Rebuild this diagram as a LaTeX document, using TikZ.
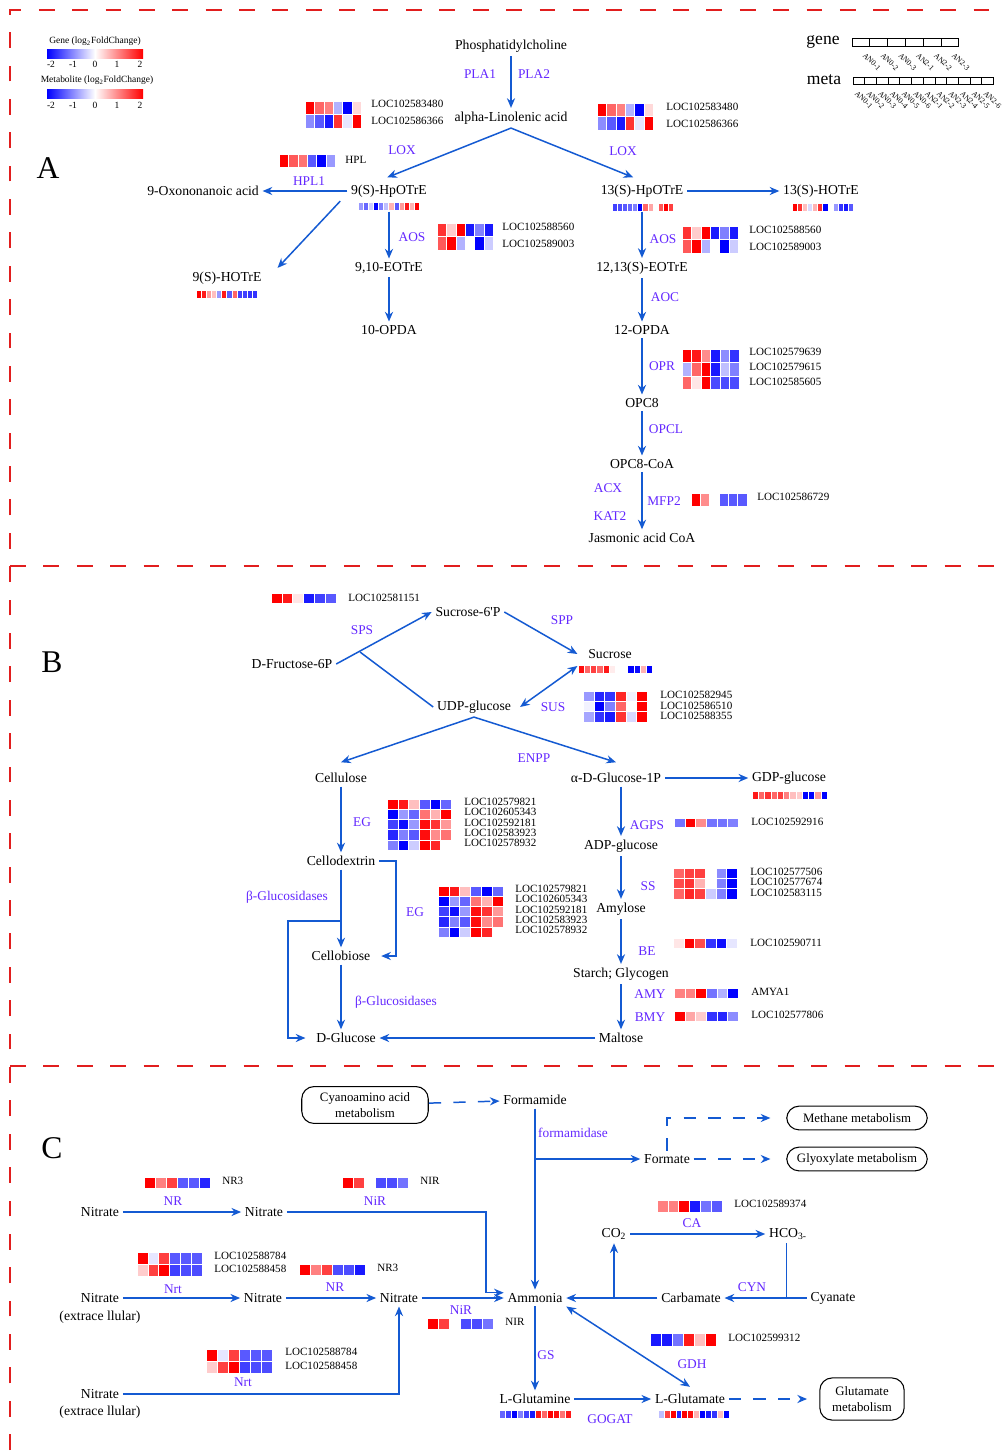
\documentclass[tikz,border=0pt]{standalone}
\usepackage{fontspec}
\setmainfont{Liberation Serif}
\usetikzlibrary{arrows.meta,calc}
\definecolor{arrcol}{RGB}{20,90,210}
\definecolor{enzcol}{RGB}{100,40,255}
\definecolor{sepcol}{RGB}{225,30,30}
\newcommand{\hmap}[5]{%
  \foreach \hrow [count=\j from 0] in {#5}{%
    \foreach \v [count=\i from 0] in \hrow{%
      \pgfmathsetmacro{\hp}{min(100,abs(\v)*50)}%
      \ifdim \v pt<0pt \def\hc{blue}\else\def\hc{red}\fi
      \filldraw[fill=\hc!\hp!white, draw=white, line width=0.15pt]
        (#1+\i*#3,#2+\j*#4) rectangle ++(#3,#4);
    }%
  }%
}
\tikzset{
  met/.style={font=\fontsize{7.8}{9.4}\selectfont, inner sep=2pt, align=center},
  enz/.style={font=\fontsize{7.6}{9}\selectfont, text=enzcol, inner sep=1pt},
  loc/.style={font=\fontsize{6.3}{7}\selectfont, anchor=west, inner sep=0pt},
  leg/.style={font=\fontsize{5.4}{6}\selectfont, inner sep=0pt},
  part/.style={font=\fontsize{18}{18}\selectfont, inner sep=0pt},
  arr/.style={draw=arrcol, line width=0.85pt, arrows={-Stealth[length=5.5pt,width=4.6pt]}},
  darr/.style={arr, arrows={Stealth[length=5.5pt,width=4.6pt]-Stealth[length=5.5pt,width=4.6pt]}},
  dasharr/.style={arr, dash pattern=on 7pt off 7pt},
  lin/.style={draw=arrcol, line width=0.85pt},
  pbox/.style={draw, line width=0.6pt, rounded corners=7pt, align=center,
    font=\fontsize{7.3}{9}\selectfont, inner sep=2pt},
  sep/.style={draw=sepcol, line width=1.4pt, dash pattern=on 9pt off 10pt},
}
\begin{document}
\begin{tikzpicture}[x=0.02cm,y=-0.02cm]
\useasboundingbox (0,0) rectangle (1006,1453);
\fill[white] (0,0) rectangle (1006,1453);
\draw[sep] (10,1450) -- (10,10) -- (1006,10);
\draw[sep] (10,566) -- (1006,566);
\draw[sep] (10,1066) -- (1006,1066);

% legend
\node[leg] (legg) at (95,41) {Gene (log\textsubscript{2}FoldChange)};
\shade[left color=blue, right color=red, middle color=white] (47,50) rectangle (143,59);
\node[leg] (legm) at (97,80) {Metabolite (log\textsubscript{2}FoldChange)};
\shade[left color=blue, right color=red, middle color=white] (47,90) rectangle (143,99);
\foreach \t/\xx in {-2/51,-1/73,0/95,1/117,2/140}{
  \node[leg] (lg\t) at (\xx,64) {\t};
  \node[leg] (lm\t) at (\xx,105) {\t};
}
\node[font=\fontsize{10}{10}\selectfont, inner sep=0pt] (gene) at (823,42) {gene};
\node[font=\fontsize{10}{10}\selectfont, inner sep=0pt] (meta) at (824,80) {meta};
\foreach \t [count=\i from 0] in {AN0-1,AN0-2,AN0-3,AN2-1,AN2-2,AN2-3}{
  \draw[line width=0.4pt] (852+\i*17.8,38) rectangle ++(17.8,8);
  \node[leg, font=\fontsize{4.4}{5}\selectfont, rotate=-45, anchor=west] (gl\i) at (864+\i*17.8,54) {\t};
}
\foreach \t [count=\i from 0] in {AN0-1,AN0-2,AN0-3,AN0-4,AN0-5,AN0-6,AN2-1,AN2-2,AN2-3,AN2-4,AN2-5,AN2-6}{
  \draw[line width=0.4pt] (853+\i*11.7,77) rectangle ++(11.7,7);
  \node[leg, font=\fontsize{4.4}{5}\selectfont, rotate=-45, anchor=west] (ml\i) at (856+\i*11.7,92) {\t};
}

% A
\node[part] (pA) at (48,168) {A};
\node[met] (phos) at (511,46) {Phosphatidylcholine};
\node[met] (ala) at (511,118) {alpha-Linolenic acid};
\draw[arr] (phos) -- (ala);
\node[enz] (pla1) at (480,74) {PLA1};
\node[enz] (pla2) at (534,74) {PLA2};
\hmap{305}{101}{9.4}{13.5}{{2,1.2,1,-0.6,-2,0.3},{-0.9,-1.3,-1.8,1.6,-0.2,2}}
\hmap{597}{103}{9.4}{13.5}{{2,1.2,1,-0.6,-2,0.3},{-0.9,-1.3,-1.8,1.6,-0.2,2}}
\foreach \t [count=\k from 0] in {LOC102583480,LOC102586366}{
  \node[loc] (lla\k) at (371,104+\k*17) {\t};
  \node[loc] (llb\k) at (666,107+\k*17) {\t};
}
\node[met] (hp9) at (389,191) {9(S)-HpOTrE};
\node[met] (hp13) at (642,191) {13(S)-HpOTrE};
\draw[arr] (ala.south) -- ([xshift=-1pt,yshift=2pt]hp9.north);
\draw[arr] (ala.south) -- ([xshift=-5pt,yshift=2pt]hp13.north);
\node[enz] (lox1) at (402,150) {LOX};
\node[enz] (lox2) at (623,151) {LOX};
\hmap{358}{202}{5.1}{8}{{-0.8,-1.2,-0.4,-2,-1,-0.5,0.6,-1.3,0.8,1.8,0.6,2}}
\node[met] (oxo) at (203,191) {9-Oxononanoic acid};
\draw[arr] (hp9) -- (oxo);
\node[enz] (hpl1) at (309,181) {HPL1};
\hmap{279}{154}{9.4}{13}{{2,1.3,1.1,-1.3,-2,-0.8}}
\node[loc] (hpl) at (345,160) {HPL};
\node[met] (ho9) at (227,278) {9(S)-HOTrE};
\draw[arr] ([xshift=-4pt]hp9.south west) -- ([xshift=7pt]ho9.north east);
\hmap{196}{290}{5.1}{8}{{2,1.8,0.8,0.5,-0.8,1.8,-1.3,1.2,-1.5,-1.5,-1.6,-1.6}}
\node[met] (eo9) at (389,268) {9,10-EOTrE};
\draw[arr, shorten <=6pt] (hp9) -- (eo9);
\node[enz] (aos1) at (412,237) {AOS};
\hmap{437}{223}{9.4}{13.5}{{1.6,0.4,2,-1.8,-1,-1.8},{1.3,2,-0.6,0,-2,-0.4}}
\foreach \t [count=\k from 0] in {LOC102588560,LOC102589003}{
  \node[loc] (lac\k) at (502,227+\k*16.5) {\t};
  \node[loc] (lad\k) at (749,230+\k*16.5) {\t};
}
\node[met] (opda10) at (389,330) {10-OPDA};
\draw[arr] (eo9) -- (opda10);

\node[met] (ho13) at (821,191) {13(S)-HOTrE};
\draw[arr] (hp13) -- (ho13);
\hmap{612}{203}{5.1}{8}{{-1.5,-1.4,-1.3,-1.2,-1,-2,1.2,0.7,0,1.3,2,1.5}}
\hmap{792}{203}{5.1}{8}{{2,1.6,0.5,-0.3,0.6,1.6,-2,0,-0.8,-1.6,-1.8,-1.3}}
\node[met] (eo13) at (642,268) {12,13(S)-EOTrE};
\draw[arr, shorten <=6pt] (hp13) -- (eo13);
\node[enz] (aos2) at (663,239) {AOS};
\hmap{682}{226}{9.4}{13.5}{{1.6,0.4,2,-1.8,-1,-1.8},{1.3,2,-0.6,0,-2,-0.4}}
\node[met] (opda12) at (642,330) {12-OPDA};
\draw[arr] (eo13) -- (opda12);
\node[enz] (aoc) at (665,297) {AOC};
\node[met] (opc8) at (642,403) {OPC8};
\draw[arr] (opda12) -- (opc8);
\node[enz] (opr) at (662,366) {OPR};
\hmap{682}{349}{9.5}{13.4}{{2,1.8,0.9,-1.8,-0.9,-1.6},{-0.6,1.2,2,-1.8,-0.5,-1},{1.2,0.2,2,-1.4,-1.4,-1.4}}
\foreach \t [count=\k from 0] in {LOC102579639,LOC102579615,LOC102585605}{
  \node[loc] (lae\k) at (749,352+\k*15) {\t};
}
\node[met] (opccoa) at (642,464) {OPC8-CoA};
\draw[arr] (opc8) -- (opccoa);
\node[enz] (opcl) at (666,429) {OPCL};
\node[met] (jacoa) at (642,538) {Jasmonic acid CoA};
\draw[arr] (opccoa) -- (jacoa);
\node[enz] (acx) at (608,488) {ACX};
\node[enz] (kat2) at (610,516) {KAT2};
\node[enz] (mfp2) at (664,501) {MFP2};
\hmap{691}{493}{9.3}{13}{{2,0.9,0,-1.3,-1.3,-1.3}}
\node[loc] (laf) at (757,497) {LOC102586729};

% B
\node[part] (pB) at (52,662) {B};
\hmap{271}{593}{10.8}{10}{{2,1.8,0.2,-1.8,-1.5,-1.3}}
\node[loc] (lba) at (348,598) {LOC102581151};
\node[met] (fru) at (292,664) {D-Fructose-6P};
\node[met] (suc6p) at (468,612) {Sucrose-6\textquotesingle P};
\node[met] (udp) at (474,707) {UDP-glucose};
\draw[arr] (fru.east) -- (suc6p.west);
\coordinate (spsj) at (360,652);
\draw[lin] (spsj) -- (udp.west);
\node[enz] (sps) at (362,630) {SPS};
\node[met] (suc) at (610,654) {Sucrose};
\draw[arr] (suc6p.east) -- ([xshift=-4pt]suc.west);
\node[enz] (spp) at (562,620) {SPP};
\hmap{578}{665}{6.2}{8}{{1.9,1.2,1.5,1.2,1.8,0.15,0,0,-2,-1.9,0.6,-2}}
\draw[darr] ([xshift=3pt]udp.east) -- ([xshift=-4pt,yshift=-2pt]suc.south west);
\node[enz] (sus) at (553,707) {SUS};
\hmap{583}{691}{10.7}{10.3}{{-0.8,-1.7,-1.6,1.7,-0.1,2},{-0.1,-2,-1,1.2,0,2},{-0.7,-1.6,-1.8,1.6,-0.3,2}}
\foreach \t [count=\k from 0] in {LOC102582945,LOC102586510,LOC102588355}{
  \node[loc] (lbb\k) at (660,695+\k*10.5) {\t};
}
\node[met] (cellu) at (341,778) {Cellulose};
\node[met] (glc1p) at (616,778) {α-D-Glucose-1P};
\draw[arr] (udp.south) -- ([yshift=4pt]cellu.north);
\draw[arr] (udp.south) -- ([yshift=4pt]glc1p.north);
\node[enz] (enpp) at (534,758) {ENPP};
\node[met] (cdex) at (341,861) {Cellodextrin};
\draw[arr] (cellu) -- (cdex);
\node[enz] (eg1) at (362,822) {EG};
\hmap{387}{799}{10.7}{10.2}{{2,1.8,0.5,-1.3,-2,-1.2},{-2,-0.8,-1.2,1.1,0.6,2},{-1.5,-1.9,-0.8,1.9,1.6,0.8},{-1.7,-1,-1.3,1.9,0.9,1.1},{-1,-2,-0.4,2,1.7,0}}
\hmap{438}{886}{10.8}{10.2}{{2,1.8,0.5,-1.3,-2,-1.2},{-2,-0.8,-1.2,1.1,0.6,2},{-1.5,-1.9,-0.8,1.9,1.6,0.8},{-1.7,-1,-1.3,1.9,0.9,1.1},{-1,-2,-0.4,2,1.7,0}}
\foreach \t [count=\k from 0] in {LOC102579821,LOC102605343,LOC102592181,LOC102583923,LOC102578932}{
  \node[loc] (lbc\k) at (464,802+\k*10.3) {\t};
  \node[loc] (lbd\k) at (515,889+\k*10.3) {\t};
}
\node[met] (cbio) at (341,956) {Cellobiose};
\draw[arr] (cdex) -- (cbio);
\draw[arr] (cdex.east) -- ++(17,0) |- ([xshift=4pt]cbio.east);
\node[enz] (eg2) at (415,912) {EG};
\node[enz] (bglu1) at (287,897) {β-Glucosidases};
\node[met] (dglc) at (346,1038) {D-Glucose};
\draw[arr] (cbio) -- (cbio |- dglc.north);
\node[enz] (bglu2) at (396,1002) {β-Glucosidases};
\coordinate (bgj) at (341,921);
\draw[arr] (bgj) -- ++(-53,0) |- ([xshift=-4pt]dglc.west);
\node[met] (gdp) at (789,778) {GDP-glucose};
\draw[arr] (glc1p) -- (gdp);
\hmap{752}{791}{6.25}{8}{{1.8,1.2,1.6,1.2,1.5,1,0.5,0.4,-2,-2,0.8,-2}}
\node[met] (adp) at (621,846) {ADP-glucose};
\draw[arr] (glc1p.south -| adp.north) -- (adp.north);
\node[enz] (agps) at (647,825) {AGPS};
\hmap{674}{818}{10.7}{9.5}{{-1.1,2,0.9,-1.1,-1.1,-1}}
\node[loc] (lbe) at (751,822) {LOC102592916};
\node[met] (amyl) at (621,909) {Amylose};
\draw[arr] (adp) -- (amyl);
\node[enz] (ss) at (648,886) {SS};
\hmap{673}{868}{10.7}{10.3}{{1.2,1.5,1.5,0,-0.9,-2},{1.4,1.6,0.6,0,-1,-2},{1.2,1.7,1.5,-0.4,-1,-2}}
\foreach \t [count=\k from 0] in {LOC102577506,LOC102577674,LOC102583115}{
  \node[loc] (lbf\k) at (750,872+\k*10.3) {\t};
}
\node[met] (starch) at (621,974) {Starch; Glycogen};
\draw[arr] (amyl) -- (starch);
\node[enz] (be) at (647,951) {BE};
\hmap{673}{938}{10.7}{10}{{0.2,2,1.4,-1.6,-1.9,-0.2}}
\node[loc] (lbg) at (750,943) {LOC102590711};
\node[met] (malt) at (621,1038) {Maltose};
\draw[arr] (starch) -- (malt);
\draw[arr] (malt) -- (dglc);
\node[enz] (amy) at (650,994) {AMY};
\node[enz] (bmy) at (650,1017) {BMY};
\hmap{674}{988}{10.7}{10}{{1,1,2,-1.1,-0.6,-2}}
\hmap{674}{1011}{10.7}{10}{{2,0.7,0.4,-1.6,-1.7,-0.9}}
\node[loc] (lbh) at (751,992) {AMYA1};
\node[loc] (lbi) at (751,1015) {LOC102577806};

% C
\node[part] (pC) at (52,1148) {C};
\node[pbox, minimum width=72pt, minimum height=21pt] (cyano) at (365,1105) {Cyanoamino acid\\metabolism};
\node[met] (fmide) at (535,1100) {Formamide};
\draw[dasharr] (cyano) -- (fmide);
\node[met] (amm) at (535,1298) {Ammonia};
\draw[arr] (fmide) -- (amm);
\node[enz] (fase) at (573,1133) {formamidase};
\node[met] (frmt) at (667,1159) {Formate};
\draw[arr] (fmide |- frmt) -- (frmt);
\node[pbox, minimum width=80pt, minimum height=13.5pt] (meth) at (857,1118) {Methane metabolism};
\node[pbox, minimum width=80pt, minimum height=13.5pt] (glyo) at (857,1159) {Glyoxylate metabolism};
\draw[dasharr, shorten >=9pt] (frmt.north) |- (meth.west);
\draw[dasharr, shorten >=9pt] (frmt) -- (glyo);

\node[met] (nit1) at (100,1212) {Nitrate};
\node[met] (nit2) at (264,1212) {Nitrate};
\draw[arr] (nit1) -- (nit2);
\node[enz] (nr1) at (173,1201) {NR};
\hmap{144}{1177}{11}{11}{{2,1,1.5,-1.3,-1.3,-1.7}}
\node[loc] (lca) at (222,1181) {NR3};
\draw[arr] (nit2.east) -- ++(199,0) |- ([yshift=3pt]amm.west);
\node[enz] (nir1) at (375,1201) {NiR};
\hmap{342}{1177}{11}{11}{{2,1.5,0,-1.4,-1.4,-1.1}}
\node[loc] (lcb) at (420,1181) {NIR};

\node[met] (nitex1) at (100,1298) {Nitrate};
\node[met] (nitex1b) at (100,1317) {(extrace llular)};
\node[met] (nit3) at (263,1298) {Nitrate};
\node[met] (nit4) at (399,1298) {Nitrate};
\draw[arr] (nitex1) -- (nit3);
\draw[arr] (nit3) -- (nit4);
\draw[arr] (nit4) -- (amm);
\node[enz] (nrt1) at (173,1289) {Nrt};
\hmap{137}{1252}{10.8}{12}{{2,-0.2,1.5,-1.3,-1.3,-1.3},{0.4,1.5,2,-1.5,-1.4,-1.4}}
\node[enz] (nr2) at (335,1287) {NR};
\hmap{299}{1264}{11}{11}{{2,1,1.5,-1.4,-1.4,-1.8}}
\node[loc] (lcc) at (377,1268) {NR3};
\node[enz] (nir2) at (461,1310) {NiR};
\hmap{427}{1318}{11}{11}{{2,1.5,0,-1.4,-1.4,-1.1}}
\node[loc] (lcd) at (505,1322) {NIR};

\node[met] (nitex2) at (100,1394) {Nitrate};
\node[met] (nitex2b) at (100,1412) {(extrace llular)};
\draw[arr] (nitex2) -| (nit4);
\hmap{206}{1349}{11}{12}{{2,-0.2,1.5,-1.3,-1.3,-1.3},{0.4,1.5,2,-1.5,-1.4,-1.4}}
\node[enz] (nrt2) at (243,1382) {Nrt};
\foreach \t [count=\k from 0] in {LOC102588784,LOC102588458}{
  \node[loc] (lce\k) at (214,1256+\k*13) {\t};
  \node[loc] (lcf\k) at (285,1352+\k*14) {\t};
}

\node[met] (carb) at (691,1298) {Carbamate};
\node[met] (cyan) at (833,1298) {Cyanate};
\node[met] (co2) at (614,1234) {CO\textsubscript{2}};
\node[met] (hco3) at (788,1234) {HCO\textsubscript{3-}};
\draw[arr] (carb) -- (amm);
\draw[arr] (cyan) -- (carb);
\draw[lin] ([xshift=-1pt]hco3.south) -- ([xshift=-1pt]hco3.south |- cyan);
\draw[arr] (co2 |- amm) -- (co2);
\draw[arr] (co2) -- (hco3);
\node[enz] (cyn) at (752,1287) {CYN};
\node[enz] (ca) at (692,1223) {CA};
\hmap{657}{1200}{10.8}{12}{{1,1,2,-1.8,-1.1,-1.3}}
\node[loc] (lcg) at (734,1204) {LOC102589374};

\node[met] (gln) at (535,1399) {L-Glutamine};
\draw[arr] (amm) -- (gln);
\node[enz] (gs) at (546,1355) {GS};
\node[met] (glu) at (690,1399) {L-Glutamate};
\draw[arr] (gln) -- (glu);
\node[enz] (gogat) at (610,1419) {GOGAT};
\draw[darr] (amm.south east) -- ([yshift=2pt]glu.north);
\node[enz] (gdh) at (692,1364) {GDH};
\hmap{650}{1333}{11}{13}{{-1.8,-1.8,-1.1,1.8,0.5,2}}
\node[loc] (lch) at (728,1338) {LOC102599312};
\hmap{499}{1410}{6}{8}{{-1.2,-1.5,-2,-1,-1.5,-1.8,1.8,1.2,2,1.9,1.1,1.8}}
\hmap{658}{1410}{5.9}{8}{{-0.5,1.5,2,-1.7,2,1.9,0.6,-2,-1.8,-1.6,0.5,-2}}
\node[pbox, minimum width=48pt, minimum height=24pt] (glum) at (862,1399) {Glutamate\\metabolism};
\draw[dasharr, shorten >=7pt] (glu) -- (glum);
\end{tikzpicture}
\end{document}
